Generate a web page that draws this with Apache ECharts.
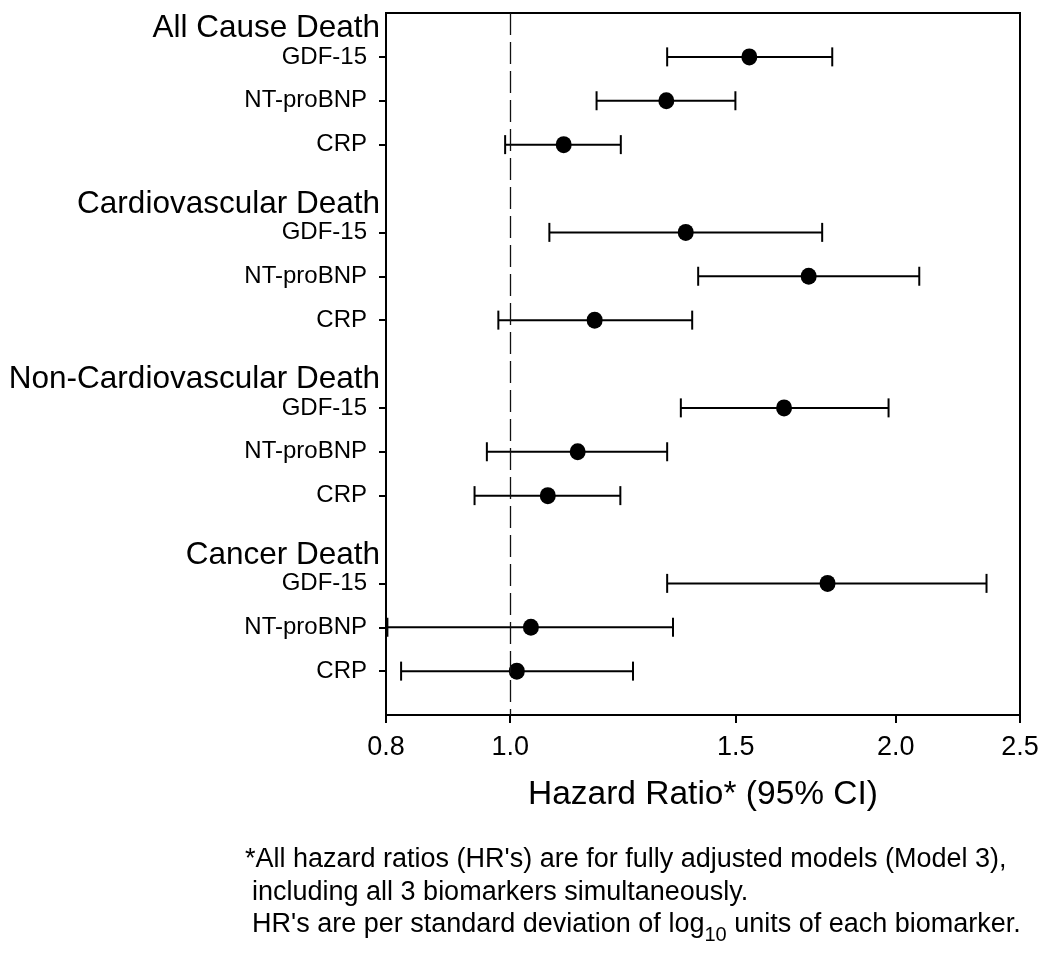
<!DOCTYPE html>
<html>
<head>
<meta charset="utf-8">
<script src="https://cdn.jsdelivr.net/npm/echarts@6/dist/echarts.min.js"></script>
<style>
html,body{margin:0;padding:0;background:#fff;}
#chart{width:1050px;height:956px;}
</style>
</head>
<body>
<div id="chart"></div>
<script>
// ---- data ----
const groups = ['All Cause Death', 'Cardiovascular Death', 'Non-Cardiovascular Death', 'Cancer Death'];
const markers = ['GDF-15', 'NT-proBNP', 'CRP'];
// hazard ratios, in order group by group, marker by marker
const hr    = [1.537, 1.324, 1.101,  1.371, 1.710, 1.164,  1.636, 1.129, 1.070,  1.769, 1.038, 1.012];
const lower = [1.326, 1.168, 0.991,  1.073, 1.402, 0.979,  1.359, 0.959, 0.938,  1.326, 0.802, 0.822];
const upper = [1.784, 1.499, 1.220,  1.752, 2.086, 1.387,  1.974, 1.326, 1.219,  2.354, 1.340, 1.247];
const xTicks = [0.8, 1.0, 1.5, 2.0, 2.5];
const xTickLabels = ['0.8', '1.0', '1.5', '2.0', '2.5'];
const xTitle = 'Hazard Ratio* (95% CI)';
const refValue = 1.0;
const footnotes = [
  "*All hazard ratios (HR's) are for fully adjusted models (Model 3),",
  "including all 3 biomarkers simultaneously.",
  "HR's are per standard deviation of log{sub|10} units of each biomarker."
];

// ---- build ----
const FONT = '"Liberation Sans", Arial, Helvetica, sans-serif';
const slotsPerGroup = markers.length + 1;
const rowPos = [], rowText = [];
groups.forEach((g, gi) => markers.forEach((m, mi) => {
  rowPos.push(gi * slotsPerGroup + mi + 1);
  rowText.push(m);
}));
const headerPos = groups.map((g, gi) => gi * slotsPerGroup + 0.36);
const labelMap = {};
rowPos.forEach((p, i) => labelMap[p.toFixed(2)] = '{r|' + rowText[i] + '}');
headerPos.forEach((p, i) => labelMap[p.toFixed(2)] = '{h|' + groups[i] + '}');
const tickMap = {};
xTicks.forEach((t, i) => tickMap[Math.log(t).toFixed(4)] = xTickLabels[i]);

const ciData = rowPos.map((p, i) => [Math.log(lower[i]), Math.log(upper[i]), p]);
const ptData = rowPos.map((p, i) => [Math.log(hr[i]), p]);

const chart = echarts.init(document.getElementById('chart'), null, {renderer: 'canvas'});
const option = {
  animation: false,
  backgroundColor: '#fff',
  grid: {left: 386, right: 30, top: 13, bottom: 241, show: true, borderColor: '#000', borderWidth: 2, backgroundColor: 'transparent'},
  xAxis: {
    type: 'value',
    min: Math.log(xTicks[0]),
    max: Math.log(xTicks[xTicks.length - 1]),
    splitLine: {show: false},
    axisLine: {show: true, onZero: false, lineStyle: {color: '#000', width: 2}},
    axisTick: {show: true, length: 8, lineStyle: {color: '#000', width: 2}, customValues: xTicks.map(Math.log)},
    axisLabel: {
      show: true, margin: 19, fontSize: 27, color: '#000', fontFamily: FONT,
      customValues: xTicks.map(Math.log),
      formatter: v => tickMap[v.toFixed(4)] || ''
    },
    name: xTitle, nameLocation: 'middle', nameGap: 63,
    nameTextStyle: {fontSize: 33.5, color: '#000', fontFamily: FONT, verticalAlign: 'top'}
  },
  yAxis: {
    type: 'value',
    inverse: true,
    min: 0,
    max: groups.length * slotsPerGroup,
    splitLine: {show: false},
    axisLine: {show: true, onZero: false, lineStyle: {color: '#000', width: 2}},
    axisTick: {show: true, length: 7, lineStyle: {color: '#000', width: 2}, customValues: rowPos},
    axisLabel: {
      show: true, margin: 6, color: '#000', fontFamily: FONT,
      customValues: headerPos.concat(rowPos),
      formatter: v => labelMap[v.toFixed(2)] || '',
      rich: {
        h: {fontSize: 31.5, color: '#000', fontFamily: FONT},
        r: {fontSize: 24, color: '#000', fontFamily: FONT, padding: [0, 13, 0, 0]}
      }
    }
  },
  series: [
    {
      type: 'custom',
      silent: true,
      data: ciData,
      encode: {x: [0, 1], y: 2},
      renderItem: function (params, api) {
        const y = api.value(2);
        const a = api.coord([api.value(0), y]);
        const b = api.coord([api.value(1), y]);
        const h = 9.5;
        const st = {stroke: '#000', lineWidth: 2};
        return {type: 'group', children: [
          {type: 'line', shape: {x1: a[0], y1: a[1], x2: b[0], y2: b[1]}, style: st},
          {type: 'line', shape: {x1: a[0], y1: a[1] - h, x2: a[0], y2: a[1] + h}, style: st},
          {type: 'line', shape: {x1: b[0], y1: b[1] - h, x2: b[0], y2: b[1] + h}, style: st}
        ]};
      },
      z: 2
    },
    {
      type: 'scatter',
      data: ptData,
      symbol: 'circle',
      symbolSize: [16, 17],
      itemStyle: {color: '#000', opacity: 1},
      silent: true,
      z: 3,
      markLine: {
        silent: true,
        symbol: ['none', 'none'],
        label: {show: false},
        lineStyle: {color: '#111', width: 1.3, type: [22, 7]},
        data: [{xAxis: Math.log(refValue)}]
      }
    }
  ],
  graphic: footnotes.map((t, i) => ({
    type: 'text',
    x: i === 0 ? 245 : 252,
    y: 860 + i * 32.5,
    silent: true,
    style: {
      text: t,
      fill: '#000',
      fontSize: 27,
      fontFamily: FONT,
      verticalAlign: 'middle',
      rich: {
        sub: {fontSize: 20, fontFamily: FONT, fill: '#000', padding: [20, 0, 0, 0]}
      }
    }
  }))
};
chart.setOption(option);
</script>
</body>
</html>
